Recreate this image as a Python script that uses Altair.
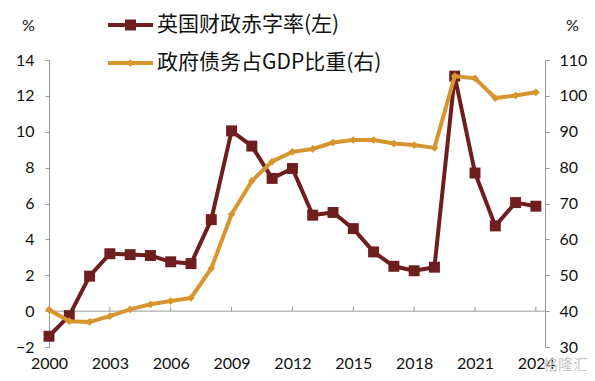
import altair as alt
import pandas as pd

years = list(range(2000, 2025))
deficit = [-1.4, -0.25, 1.95, 3.2, 3.15, 3.1, 2.75, 2.65, 5.1, 10.05, 9.2, 7.4, 7.95,
           5.35, 5.5, 4.6, 3.3, 2.5, 2.25, 2.45, 13.1, 7.7, 4.75, 6.05, 5.85]
debt = [40.4, 37.2, 37.0, 38.6, 40.5, 41.9, 42.8, 43.7, 51.9, 67.0, 76.3, 81.7, 84.4,
        85.2, 87.0, 87.7, 87.7, 86.7, 86.3, 85.5, 105.5, 104.9, 99.4, 100.1, 101.0]
series_names = ["英国财政赤字率(左)", "政府债务占GDP比重(右)"]
colors = ["#6E1E1E", "#D6952E"]
x_ticks = list(range(2000, 2025, 3))
left_ticks = list(range(-2, 15, 2))
right_ticks = list(range(30, 111, 10))
watermark = "格隆汇"

FONT = "Lato"
CJK = "Noto Sans CJK SC"
AXIS_GREY = "#9a9a9a"
FS = 16

df = pd.DataFrame({"year": years, "deficit": deficit, "debt": debt})
tick_df = pd.DataFrame({"year": x_ticks, "deficit": [0] * len(x_ticks),
                        "top": [0.25] * len(x_ticks)})
zero_df = pd.DataFrame({"deficit": [0]})

x_enc = alt.X("year:Q",
              scale=alt.Scale(domain=[2000, 2024.45], nice=False, zero=False),
              axis=alt.Axis(values=x_ticks, format="d", domain=False, ticks=False,
                            grid=False, labelPadding=8, labelFontSize=FS,
                            labelFlush=False, labelOverlap=False, labelColor="#111",
                            labelFont=FONT, title=None))

y_left_axis = alt.Axis(values=left_ticks, grid=False, domainColor=AXIS_GREY,
                       tickColor=AXIS_GREY, tickSize=4, labelPadding=11,
                       labelFontSize=FS, labelColor="#111", labelFont=FONT,
                       labelOverlap=False, labelFlush=False,
                       title="%", titleAngle=0, titleX=-21, titleY=-35,
                       titleAlign="center", titleBaseline="middle",
                       titleFontSize=FS, titleFontWeight="normal",
                       titleFont=FONT, titleColor="#111")
y_left = alt.Y("deficit:Q", scale=alt.Scale(domain=[-2, 14], nice=False), axis=y_left_axis)

y_right_axis = alt.Axis(orient="right", values=right_ticks, grid=False,
                        domainColor=AXIS_GREY, tickColor=AXIS_GREY, tickSize=4,
                        labelPadding=10, labelFontSize=FS, labelColor="#111",
                        labelFont=FONT, labelOverlap=False, labelFlush=False,
                        title="%", titleAngle=0, titleX=27,
                        titleY=-35, titleAlign="center", titleBaseline="middle",
                        titleFontSize=FS, titleFontWeight="normal",
                        titleFont=FONT, titleColor="#111")
y_right = alt.Y("debt:Q", scale=alt.Scale(domain=[30, 110], nice=False), axis=y_right_axis)

zero_rule = alt.Chart(zero_df).mark_rule(color=AXIS_GREY, strokeWidth=1).encode(y=y_left)
tick_rules = alt.Chart(tick_df).mark_rule(color=AXIS_GREY, strokeWidth=1).encode(
    x=x_enc, y=y_left, y2="top:Q")

def_line = alt.Chart(df).mark_line(color=colors[0], strokeWidth=4).encode(x=x_enc, y=y_left)
def_pts = alt.Chart(df).mark_point(shape="square", filled=True, size=120, opacity=1,
                                   color=colors[0]).encode(x=x_enc, y=y_left)

legend_y = [-35, 3]
legend_shapes = [("square", 120), ("diamond", 60)]
legend_layers = []
for i, name in enumerate(series_names):
    ldf = pd.DataFrame({"name": [name]})
    legend_layers.append(alt.Chart(ldf).mark_rule(color=colors[i], strokeWidth=4).encode(
        x=alt.value(59), x2=alt.value(104), y=alt.value(legend_y[i])))
    legend_layers.append(alt.Chart(ldf).mark_point(shape=legend_shapes[i][0], filled=True,
                                                   size=legend_shapes[i][1], opacity=1,
                                                   color=colors[i]).encode(
        x=alt.value(81.5), y=alt.value(legend_y[i])))
    legend_layers.append(alt.Chart(ldf).mark_text(align="left", baseline="middle",
                                                  fontSize=21, font=CJK, color="#111").encode(
        x=alt.value(108), y=alt.value(legend_y[i]), text="name:N"))

wm = alt.Chart(pd.DataFrame({"t": [watermark]})).mark_text(
    align="left", baseline="middle", fontSize=15, font=CJK, color="#c8c8c8").encode(
    x=alt.value(494), y=alt.value(305), text="t:N")

left_layer = alt.layer(zero_rule, tick_rules, def_line, def_pts, *legend_layers, wm)

debt_line = alt.Chart(df).mark_line(color=colors[1], strokeWidth=4).encode(x=x_enc, y=y_right)
debt_pts = alt.Chart(df).mark_point(shape="diamond", filled=True, size=60, opacity=1,
                                    color=colors[1]).encode(x=x_enc, y=y_right)
right_layer = alt.layer(debt_line, debt_pts)

chart = alt.layer(left_layer, right_layer).resolve_scale(y="independent").properties(
    width=496, height=287,
    autosize=alt.AutoSizeParams(type="none"),
    padding={"left": 41, "top": 52, "right": 42, "bottom": 26},
    background="white",
).configure_view(stroke=None).configure_axis(labelOverlap=False)

chart.save("out.html", embed_options={"renderer": "svg", "actions": False})
